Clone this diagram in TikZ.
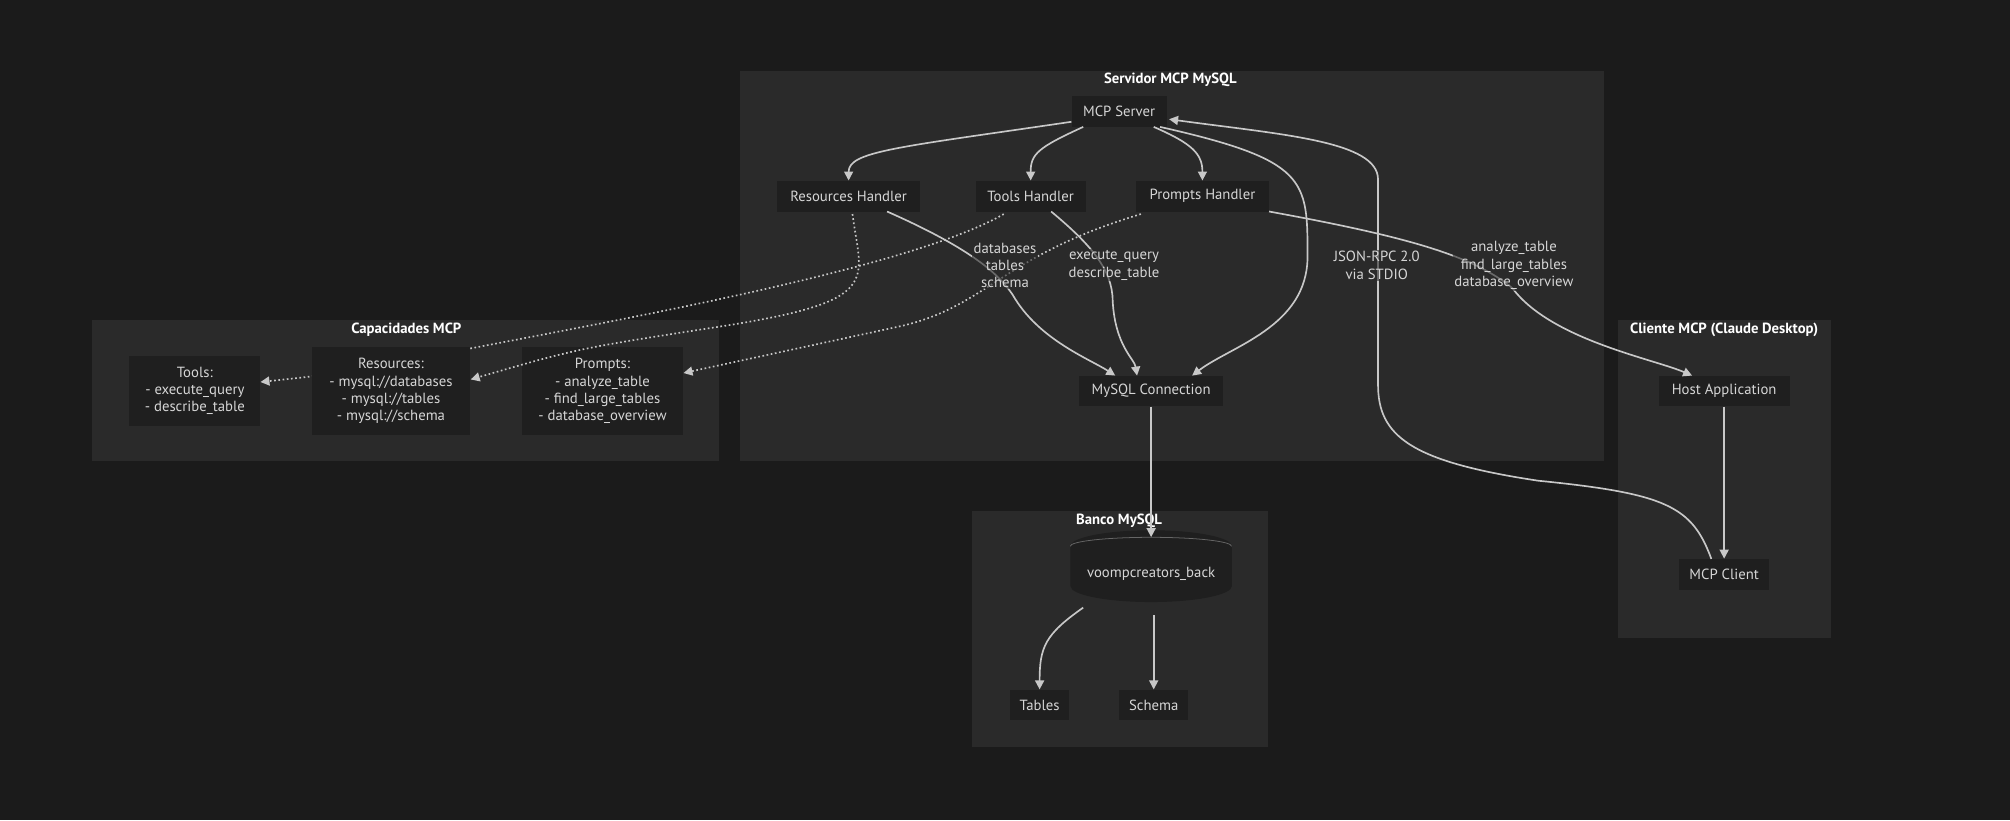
\documentclass[tikz,border=0pt]{standalone}
\usepackage{fontspec}
\setmainfont{PT Sans}
\usetikzlibrary{shapes.geometric,arrows.meta}
\definecolor{bg}{HTML}{1B1B1B}
\definecolor{cl}{HTML}{2A2A2A}
\definecolor{nd}{HTML}{1F1F1F}
\definecolor{tx}{HTML}{D6D6D6}
\definecolor{ln}{HTML}{C8C8C8}
\begin{document}
\begin{tikzpicture}[x=1pt,y=-1pt,
  clu/.style={fill=cl,draw=none},
  ctitle/.style={text=white,font=\fontsize{11.5}{13}\selectfont\bfseries},
  box/.style={fill=nd,draw=none,text=tx,font=\fontsize{11.5}{13.5}\selectfont,align=center,inner sep=0pt},
  lab/.style={text=tx,font=\fontsize{11.5}{13.5}\selectfont,align=center,fill=cl,fill opacity=0.6,text opacity=1,inner sep=1pt},
  e/.style={draw=ln,line width=1.3pt,-{Triangle[length=7pt,width=7pt]}},
  d/.style={e,dotted}]
\fill[bg] (0,0) rectangle (1568,640);
\useasboundingbox (0,0) rectangle (1568,640);
\fill[clu] (577,55) rectangle (1251,360);
\fill[clu] (72,250) rectangle (561,360);
\fill[clu] (758,399) rectangle (989,583);
\fill[clu] (1262,250) rectangle (1428,498);
\node[ctitle] at (913,62) {Servidor MCP MySQL};
\node[ctitle] at (317,257) {Capacidades MCP};
\node[ctitle] at (873,406) {Banco MySQL};
\node[ctitle] at (1345,257) {Cliente MCP (Claude Desktop)};
\coordinate (th) at (783,167);
\coordinate (rh) at (665,167);
\coordinate (ph) at (890,167);
\node[box,minimum width=102,minimum height=54] (tools) at (152,305) {Tools:\\- execute\_query\\- describe\_table};
\draw[d] (th) .. controls (700,215) and (420,260) .. (300,285) .. controls (250,293) .. (tools.east|-0,298);
\node[box,minimum width=124,minimum height=68] (res) at (305,305) {Resources:\\- mysql://databases\\- mysql://tables\\- mysql://schema};
\node[box,minimum width=126,minimum height=68] (pro) at (470,305) {Prompts:\\- analyze\_table\\- find\_large\_tables\\- database\_overview};
\draw[d] (rh) .. controls (672,220) and (690,235) .. (560,255) .. controls (450,272) .. (res.east|-0,296);
\draw[d] (ph) .. controls (780,200) and (770,240) .. (700,255) .. controls (620,272) .. (pro.east|-0,291);
\node[box,minimum width=74,minimum height=24] (srv) at (873,87) {MCP Server};
\node[box,minimum width=112,minimum height=24] (rhn) at (662,153) {Resources Handler};
\node[box,minimum width=86,minimum height=24] (thn) at (804,153) {Tools Handler};
\node[box,minimum width=104,minimum height=24] (phn) at (938,153) {Prompts Handler};
\node[box,minimum width=112,minimum height=24] (con) at (898,305) {MySQL Connection};
\node[box,cylinder,shape border rotate=90,aspect=0.25,minimum width=126,minimum height=56] (db) at (898,448) {voompcreators\_back};
\draw[draw=black!60,line width=0.6pt] (db.before top) arc[start angle=180,end angle=360,x radius=63,y radius=7];
\node[box,minimum width=46,minimum height=24] (tab) at (811,550) {Tables};
\node[box,minimum width=54,minimum height=24] (sch) at (900,550) {Schema};
\node[box,minimum width=102,minimum height=24] (host) at (1345,305) {Host Application};
\node[box,minimum width=70,minimum height=24] (cli) at (1345,448) {MCP Client};
\coordinate (dbin) at (898,419);
\draw[e] (srv.west|-0,95) .. controls (700,115) and (662,118) .. (rhn.north);
\draw[e] (845,99) .. controls (810,115) and (804,120) .. (thn.north);
\draw[e] (900,99) .. controls (930,112) and (938,120) .. (phn.north);
\draw[e] (905,99) .. controls (1020,125) and (1020,140) .. (1020,200) .. controls (1020,255) and (960,270) .. (930,293);
\draw[e] (692,165) .. controls (760,195) and (780,215) .. (790,230) .. controls (810,265) and (850,280) .. (870,293);
\draw[e] (820,165) .. controls (850,190) and (868,210) .. (868,235) .. controls (870,270) and (885,280) .. (887,293);
\draw[e] (990,165) .. controls (1100,185) and (1150,200) .. (1180,225) .. controls (1210,265) and (1290,280) .. (1320,293);
\draw[e] (1335,436) .. controls (1320,395) and (1300,385) .. (1200,375) .. controls (1100,360) and (1075,340) .. (1075,300) -- (1075,140) .. controls (1075,110) and (1000,105) .. (912,93);
\draw[e] (host) -- (cli);
\draw[e] (con) -- (dbin);
\draw[e] (845,474) .. controls (815,495) and (811,505) .. (tab.north);
\draw[e] (900,480) -- (sch.north);
\node[lab] at (784,207) {databases\\tables\\schema};
\node[lab] at (869,207) {execute\_query\\describe\_table};
\node[lab] at (1074,207) {JSON-RPC 2.0\\via STDIO};
\node[lab] at (1181,207) {analyze\_table\\find\_large\_tables\\database\_overview};
\end{tikzpicture}
\end{document}
